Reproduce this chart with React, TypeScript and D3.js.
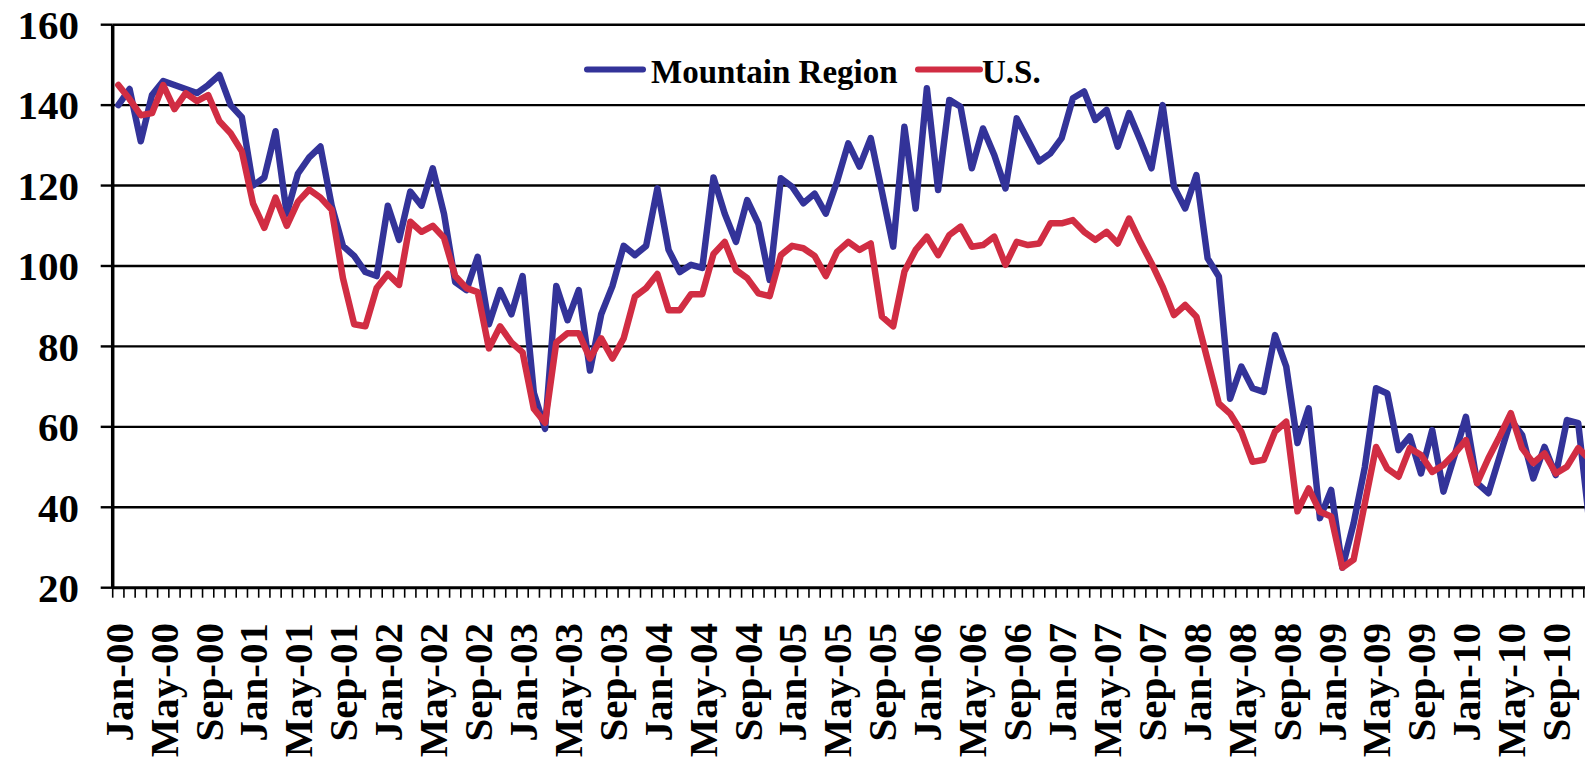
import React from "react";
import * as d3 from "d3";

const monthNames = ["Jan", "Feb", "Mar", "Apr", "May", "Jun", "Jul", "Aug", "Sep", "Oct", "Nov", "Dec"];
const years = ["00", "01", "02", "03", "04", "05", "06", "07", "08", "09", "10"];
const months: string[] = [];
years.forEach((y) => monthNames.forEach((m) => months.push(`${m}-${y}`)));

const mountain = [
  140, 144, 131, 142.5, 146, 145, 144, 143, 145, 147.5, 140, 137,
  120, 122, 133.5, 113, 123, 127, 129.7, 115, 105, 102.5, 98.5, 97.5,
  115, 106.5, 118.5, 115, 124.3, 113, 96, 94, 102.3, 85.5, 94, 88,
  97.5, 68.5, 59.5, 95, 86.5, 94, 74, 88, 95, 105, 102.7, 105,
  119.3, 104, 98.5, 100.3, 99.5, 122, 113, 106, 116.4, 110.5, 96.5, 121.8,
  119.7, 115.6, 118, 113, 121, 130.5, 124.7, 131.8, 118.5, 104.8, 134.6, 114.3,
  144.2, 118.9, 141.3, 139.6, 124.3, 134.2, 127.6, 119.3, 136.7, 131.3, 126, 128,
  131.8, 141.7, 143.4, 136.3, 138.8, 129.7, 138, 131.3, 124.3, 140, 119.7, 114.3,
  122.6, 101.9, 97.4, 67, 75, 69.6, 68.7, 82.8, 75, 56, 64.6, 37.3,
  44.3, 25, 36, 50, 69.6, 68.3, 54.2, 57.6, 48.4, 59.2, 43.9, 53,
  62.5, 46, 43.5, 52.6, 61.7, 58, 47.2, 55, 48, 61.7, 60.9, 36,
];

const us = [
  145, 141.5, 137.5, 138, 145, 139, 143, 141, 142.5, 136, 133, 128.5,
  115.5, 109.5, 117, 110, 116, 119, 117, 114, 97, 85.5, 85, 94.5,
  98, 95.3, 111, 108.5, 110, 107, 97.5, 94.5, 93.5, 79.5, 85, 81,
  78.5, 64.5, 61, 81, 83.3, 83.3, 77, 82, 77, 82, 92.4, 94.5,
  98, 89, 89, 93, 93, 103, 106, 99, 97, 93.2, 92.5, 102.7,
  105, 104.4, 102.5, 97.5, 103.5, 106, 104, 105.6, 87.4, 85, 98.6, 104,
  107.3, 102.7, 107.7, 109.8, 104.8, 105.2, 107.3, 100.3, 106, 105.2, 105.6, 110.6,
  110.6, 111.4, 108.5, 106.5, 108.5, 105.6, 111.8, 106, 100.7, 94.8, 87.8, 90.3,
  87.4, 76.6, 65.8, 63.3, 58.8, 51.3, 51.8, 58.8, 61.3, 39, 44.7, 38.9,
  37.7, 25, 27, 41, 55, 49.6, 47.6, 54.7, 53, 48.8, 50.5, 53.4,
  56.7, 46, 52.2, 57.6, 63.4, 54.7, 51, 53.4, 48.4, 50.1, 54.7, 52,
];

const yTicks = [20, 40, 60, 80, 100, 120, 140, 160];
const seriesNames = ["Mountain Region", "U.S."];
const seriesColors = ["#333399", "#D12D43"];

const W = 1585;
const H = 764;
const left = 112.7;
const monthW = 11.23;
const top = 24.7;
const bottom = 587.7;

export default function App() {
  const x = d3
    .scaleBand<number>()
    .domain(months.map((_, i) => i))
    .range([left, left + monthW * months.length])
    .paddingInner(0)
    .paddingOuter(0);
  const y = d3.scaleLinear().domain([20, 160]).range([bottom, top]);
  const cx = (i: number) => (x(i) as number) + x.bandwidth() / 2;
  const line = d3
    .line<number>()
    .x((_, i) => cx(i))
    .y((v) => y(v));

  const font = "'Liberation Serif', 'Times New Roman', serif";
  const labelIdx = months.map((_, i) => i).filter((i) => i % 4 === 0);
  const tickPos = d3.range(months.length + 1).map((k) => left + k * x.bandwidth());

  return (
    <svg
      width={W}
      height={H}
      style={{ position: "absolute", left: 0, top: 0, background: "#fff" }}
      fontFamily={font}
      fontWeight="bold"
    >
      <rect x={0} y={0} width={W} height={H} fill="#fff" />
      {yTicks.slice(1).map((t) => (
        <line key={t} x1={left} x2={W} y1={y(t)} y2={y(t)} stroke="#000" strokeWidth={2.4} />
      ))}
      {yTicks.map((t) => (
        <line key={"yt" + t} x1={left - 12} x2={left} y1={y(t)} y2={y(t)} stroke="#000" strokeWidth={2.4} />
      ))}
      {yTicks.map((t) => (
        <text key={"yl" + t} x={79} y={y(t)} dy="0.35em" textAnchor="end" fontSize={41} fill="#000">
          {t}
        </text>
      ))}
      {tickPos.map((p, k) => (
        <line key={"xt" + k} x1={p} x2={p} y1={bottom} y2={bottom + 10} stroke="#000" strokeWidth={1.6} />
      ))}
      {labelIdx.map((i) => (
        <text
          key={"xl" + i}
          transform={`translate(${cx(i)},623) rotate(-90)`}
          dy="0.35em"
          textAnchor="end"
          fontSize={41}
          fill="#000"
        >
          {months[i]}
        </text>
      ))}
      <path d={line(mountain) || ""} fill="none" stroke={seriesColors[0]} strokeWidth={6.5} strokeLinejoin="round" strokeLinecap="round" />
      <path d={line(us) || ""} fill="none" stroke={seriesColors[1]} strokeWidth={6.5} strokeLinejoin="round" strokeLinecap="round" />
      <line x1={left} x2={W} y1={bottom} y2={bottom} stroke="#000" strokeWidth={3} />
      <line x1={left} x2={left} y1={top} y2={bottom} stroke="#000" strokeWidth={3.5} />
      {/* legend */}
      <line x1={587} x2={643} y1={69.5} y2={69.5} stroke={seriesColors[0]} strokeWidth={6} strokeLinecap="round" />
      <text x={651} y={82.5} fontSize={33} fill="#000">{seriesNames[0]}</text>
      <line x1={918} x2={980} y1={69.5} y2={69.5} stroke={seriesColors[1]} strokeWidth={6} strokeLinecap="round" />
      <text x={982} y={82.5} fontSize={33} fill="#000">{seriesNames[1]}</text>
    </svg>
  );
}
